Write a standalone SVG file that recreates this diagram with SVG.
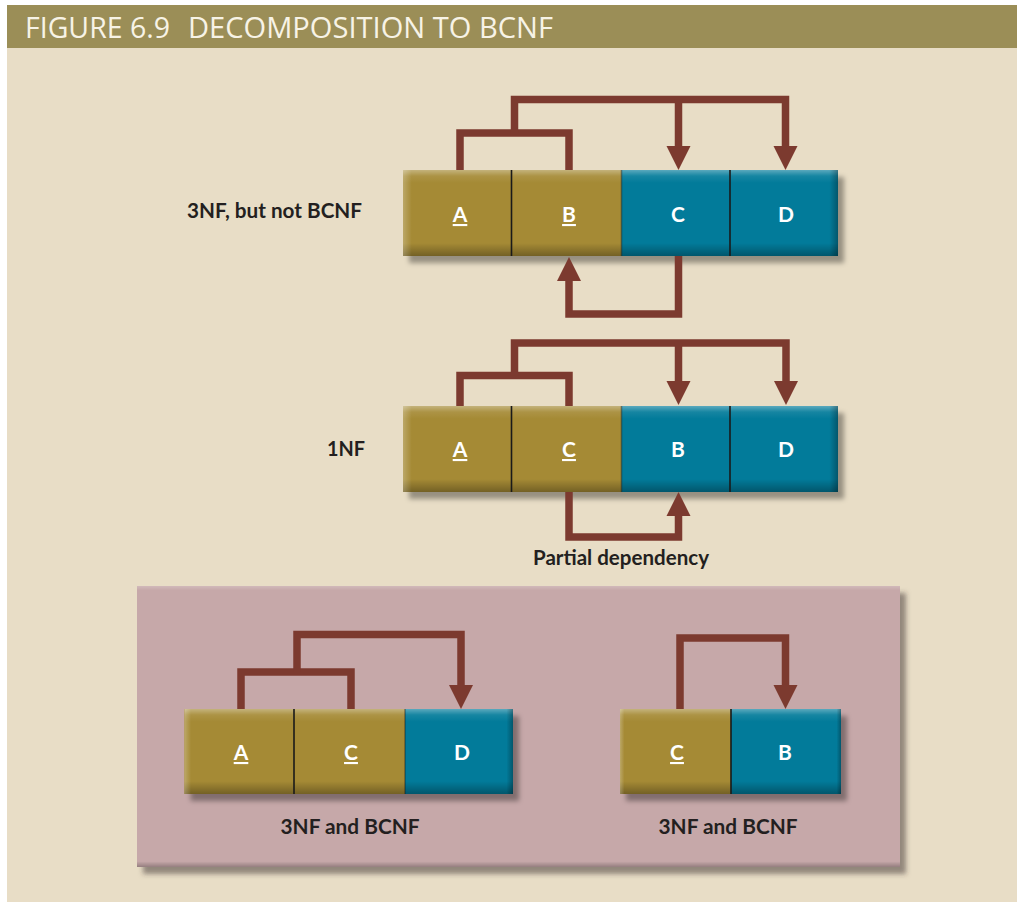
<svg xmlns="http://www.w3.org/2000/svg" width="1017" height="902" viewBox="0 0 1017 902">
<defs>
<style>
.key{fill:#a58a35}
.non{fill:#027b9a}
.div{stroke:#1a1a1a;stroke-width:1.6}
.cell-t{font-family:Lato,"Open Sans","Liberation Sans",sans-serif;font-weight:700;font-size:21px;fill:#ffffff;text-anchor:middle}
.u{text-decoration:underline}
.lbl{font-family:Lato,"Open Sans","Liberation Sans",sans-serif;font-weight:700;font-size:20px;fill:#231f20}
.ttl{font-family:"Open Sans","Liberation Sans",sans-serif;font-size:29px;fill:#f7f3e6}
.dep{fill:none;stroke:#7c3a2f;stroke-width:7.5;stroke-linejoin:miter}
.arr{marker-end:url(#ah)}
</style>
<marker id="ah" markerUnits="userSpaceOnUse" markerWidth="26" markerHeight="26" refX="0" refY="12" orient="auto" viewBox="0 0 26 24">
<path d="M0,0 L24,12 L0,24 Z" fill="#7c3a2f"/>
</marker>
<linearGradient id="bevV" x1="0" y1="0" x2="0" y2="1">
<stop offset="0" stop-color="#fff" stop-opacity="0.35"/>
<stop offset="0.07" stop-color="#fff" stop-opacity="0.08"/>
<stop offset="0.15" stop-color="#fff" stop-opacity="0"/>
<stop offset="0.85" stop-color="#000" stop-opacity="0"/>
<stop offset="1" stop-color="#000" stop-opacity="0.3"/>
</linearGradient>
<linearGradient id="bevH" x1="0" y1="0" x2="1" y2="0">
<stop offset="0" stop-color="#fff" stop-opacity="0.25"/>
<stop offset="0.02" stop-color="#fff" stop-opacity="0"/>
<stop offset="0.98" stop-color="#000" stop-opacity="0"/>
<stop offset="1" stop-color="#000" stop-opacity="0.3"/>
</linearGradient>
<linearGradient id="panelV" x1="0" y1="0" x2="0" y2="1">
<stop offset="0" stop-color="#fff" stop-opacity="0.2"/>
<stop offset="0.015" stop-color="#fff" stop-opacity="0"/>
<stop offset="0.98" stop-color="#000" stop-opacity="0"/>
<stop offset="1" stop-color="#000" stop-opacity="0.25"/>
</linearGradient>
<filter id="sh" x="-10%" y="-20%" width="130%" height="150%">
<feDropShadow dx="6" dy="7" stdDeviation="2.5" flood-color="#000" flood-opacity="0.35"/>
</filter>
<filter id="psh" x="-5%" y="-5%" width="110%" height="115%">
<feDropShadow dx="6" dy="7" stdDeviation="2.5" flood-color="#3a3030" flood-opacity="0.5"/>
</filter>
</defs>

<rect x="0" y="0" width="1017" height="902" fill="#ffffff"/>
<rect x="7" y="48" width="1010" height="854" fill="#e8ddc6"/>
<g id="title">
<rect x="7" y="5" width="1010" height="43" fill="#9b8e57"/>
<text class="ttl" x="25" y="38" textLength="145" lengthAdjust="spacingAndGlyphs">FIGURE 6.9</text>
<text class="ttl" x="188" y="38" textLength="365" lengthAdjust="spacingAndGlyphs">DECOMPOSITION TO BCNF</text>
</g>

<g id="panel">
<rect x="137" y="586" width="763" height="281" fill="#c6a8a9" filter="url(#psh)"/>
<rect x="137" y="586" width="763" height="281" fill="url(#panelV)"/>
</g>

<!-- Row 1: 3NF, but not BCNF -->
<g id="row1">
<rect x="403" y="170" width="435" height="86" fill="#a58a35" filter="url(#sh)"/>
<g id="r1-A"><rect class="key" x="403" y="170" width="108.5" height="86"/><text class="cell-t u" x="460" y="222">A</text></g>
<g id="r1-B"><rect class="key" x="511.5" y="170" width="110" height="86"/><text class="cell-t u" x="569" y="222">B</text></g>
<g id="r1-C"><rect class="non" x="621.5" y="170" width="108.5" height="86"/><text class="cell-t" x="678" y="222">C</text></g>
<g id="r1-D"><rect class="non" x="730" y="170" width="108" height="86"/><text class="cell-t" x="786" y="222">D</text></g>
<rect x="403" y="170" width="435" height="86" fill="url(#bevV)"/>
<rect x="403" y="170" width="435" height="86" fill="url(#bevH)"/>
<line class="div" x1="511.5" y1="170" x2="511.5" y2="256"/>
<line class="div" x1="621.5" y1="170" x2="621.5" y2="256" stroke-opacity="0.4"/>
<line class="div" x1="730" y1="170" x2="730" y2="256"/>
</g>
<g id="label-3nf"><text class="lbl" x="362" y="218" text-anchor="end" textLength="175" lengthAdjust="spacingAndGlyphs">3NF, but not BCNF</text></g>

<!-- Row 2: 1NF -->
<g id="row2">
<rect x="403" y="406" width="435" height="86" fill="#a58a35" filter="url(#sh)"/>
<g id="r2-A"><rect class="key" x="403" y="406" width="108.5" height="86"/><text class="cell-t u" x="460" y="457">A</text></g>
<g id="r2-C"><rect class="key" x="511.5" y="406" width="110" height="86"/><text class="cell-t u" x="569" y="457">C</text></g>
<g id="r2-B"><rect class="non" x="621.5" y="406" width="108.5" height="86"/><text class="cell-t" x="678" y="457">B</text></g>
<g id="r2-D"><rect class="non" x="730" y="406" width="108" height="86"/><text class="cell-t" x="786" y="457">D</text></g>
<rect x="403" y="406" width="435" height="86" fill="url(#bevV)"/>
<rect x="403" y="406" width="435" height="86" fill="url(#bevH)"/>
<line class="div" x1="511.5" y1="406" x2="511.5" y2="492"/>
<line class="div" x1="621.5" y1="406" x2="621.5" y2="492" stroke-opacity="0.4"/>
<line class="div" x1="730" y1="406" x2="730" y2="492"/>
</g>
<g id="label-1nf"><text class="lbl" x="365" y="456" text-anchor="end" textLength="38" lengthAdjust="spacingAndGlyphs">1NF</text></g>
<g id="label-partial"><text class="lbl" x="621" y="565" text-anchor="middle" font-size="21.5" textLength="176" lengthAdjust="spacingAndGlyphs">Partial dependency</text></g>

<!-- Row 3 left -->
<g id="row3a">
<rect x="184.5" y="709" width="328.5" height="85" fill="#a58a35" filter="url(#sh)"/>
<g id="r3a-A"><rect class="key" x="184.5" y="709" width="109.5" height="85"/><text class="cell-t u" x="241" y="760">A</text></g>
<g id="r3a-C"><rect class="key" x="294" y="709" width="111" height="85"/><text class="cell-t u" x="351" y="760">C</text></g>
<g id="r3a-D"><rect class="non" x="405" y="709" width="108" height="85"/><text class="cell-t" x="462" y="760">D</text></g>
<rect x="184.5" y="709" width="328.5" height="85" fill="url(#bevV)"/>
<rect x="184.5" y="709" width="328.5" height="85" fill="url(#bevH)"/>
<line class="div" x1="294" y1="709" x2="294" y2="794"/>
<line class="div" x1="405" y1="709" x2="405" y2="794" stroke-opacity="0.4"/>
</g>
<g id="label-3a"><text class="lbl" x="350" y="834" text-anchor="middle" font-size="21.5" textLength="139" lengthAdjust="spacingAndGlyphs">3NF and BCNF</text></g>

<!-- Row 3 right -->
<g id="row3b">
<rect x="620" y="709" width="221" height="85" fill="#a58a35" filter="url(#sh)"/>
<g id="r3b-C"><rect class="key" x="620" y="709" width="111" height="85"/><text class="cell-t u" x="677" y="760">C</text></g>
<g id="r3b-B"><rect class="non" x="731" y="709" width="110" height="85"/><text class="cell-t" x="785" y="760">B</text></g>
<rect x="620" y="709" width="221" height="85" fill="url(#bevV)"/>
<rect x="620" y="709" width="221" height="85" fill="url(#bevH)"/>
<line class="div" x1="731" y1="709" x2="731" y2="794"/>
</g>
<g id="label-3b"><text class="lbl" x="728" y="834" text-anchor="middle" font-size="21.5" textLength="139" lengthAdjust="spacingAndGlyphs">3NF and BCNF</text></g>

<g id="connectors">
<!-- row 1 -->
<path class="dep" d="M460,170 V133 H569 V170"/>
<path class="dep arr" d="M514.5,133 V99.5 H785.5 V146"/>
<path class="dep arr" d="M678.5,99.5 V146"/>
<path class="dep arr" d="M678.5,256 V314 H569 V281"/>
<!-- row 2 -->
<path class="dep" d="M460,406 V375.5 H569 V406"/>
<path class="dep arr" d="M514.5,375.5 V343 H786 V381"/>
<path class="dep arr" d="M678.5,343 V381"/>
<path class="dep arr" d="M569,492 V537 H678.5 V516"/>
<!-- row 3 -->
<path class="dep" d="M241,709 V672 H351 V709"/>
<path class="dep arr" d="M297,672 V634.5 H461 V685"/>
<path class="dep arr" d="M680,709 V638 H785.5 V685"/>
</g>
</svg>
